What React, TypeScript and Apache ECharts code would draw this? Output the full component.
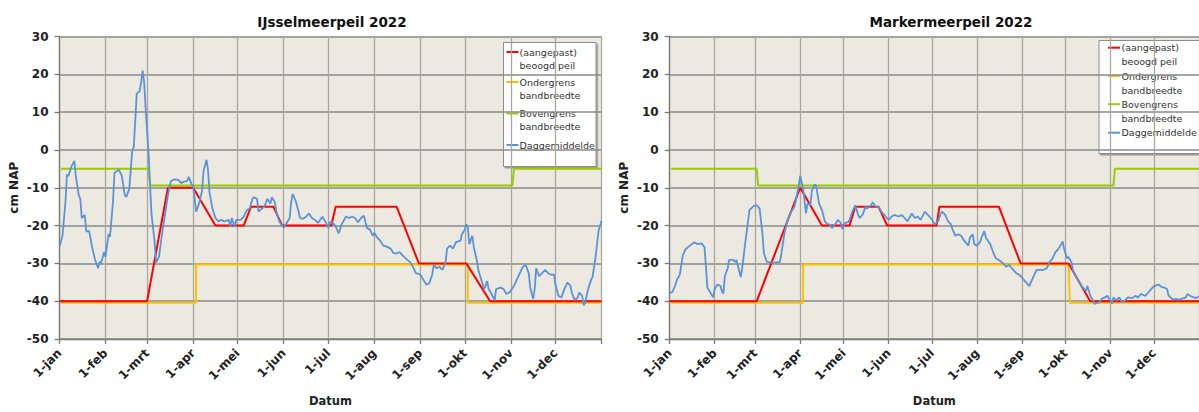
import React, { useEffect, useRef } from 'react';
import * as echarts from 'echarts';

// ---------- axis definitions ----------
const MONTH_LABELS = ['1-jan', '1-feb', '1-mrt', '1-apr', '1-mei', '1-jun', '1-jul', '1-aug', '1-sep', '1-okt', '1-nov', '1-dec'];
const MONTH_START_DAYS = [0, 31, 59, 90, 120, 151, 181, 212, 243, 273, 304, 334];
const YEAR_END_DAY = 365;
const Y_MIN = -50;
const Y_MAX = 30;
const Y_STEP = 10;

const TITLES = ['IJsselmeerpeil 2022', 'Markermeerpeil 2022'];
const Y_NAME = 'cm NAP';
const X_NAME = 'Datum';
const LEGEND_LABELS = ['(aangepast)\nbeoogd peil', 'Ondergrens\nbandbreedte', 'Bovengrens\nbandbreedte', 'Daggemiddelde'];
const SERIES_NAMES = ['(aangepast) beoogd peil', 'Ondergrens bandbreedte', 'Bovengrens bandbreedte', 'Daggemiddelde'];

// ---------- IJsselmeer data: [day of year, cm NAP] ----------
const ijsselBeoogd = [[0, -40], [59, -40], [73, -10], [90, -10], [105, -20], [124, -20], [129, -15], [144, -15], [150, -20], [183, -20], [186, -15], [227, -15], [242, -30], [274, -30], [290, -40], [365, -40]];
const ijsselOnder = [[1, -40.4], [92, -40.4], [92, -30.3], [275, -30.3], [275, -40.4], [365, -40.4]];
const ijsselBoven = [[1, -5], [60, -5], [61, -9.4], [305, -9.4], [306, -5], [365, -5]];
const ijsselDag = [
  [0, -25.6], [2, -22.7], [4, -13.8], [5, -6.5], [6, -6.9], [8, -4.4], [10, -2.9], [11, -6.9], [13, -12], [14, -12.9],
  [15, -18], [17, -17.2], [18, -21.5], [20, -21.5], [22, -25.8], [24, -29.1], [26, -31.3], [27, -29.6], [28, -30], [30, -27],
  [31, -28.3], [33, -22.3], [34, -23], [36, -13.8], [37, -6.1], [40, -5.2], [42, -6.9], [44, -12], [45, -12.4], [47, -10.3],
  [49, -0.1], [50, 0.8], [51, 7.6], [52, 14.9], [54, 15.5], [55, 18], [56, 21], [57, 17.9], [58, 11], [60, -0.9],
  [61, -9.5], [62, -17.2], [64, -24], [65, -29.8], [67, -28.3], [69, -22.3], [71, -17.2], [73, -12], [75, -8.2], [77, -7.8],
  [80, -7.9], [82, -8.8], [83, -8.5], [86, -8.2], [87, -7.1], [89, -9.1], [90, -9.5], [91, -12.9], [92, -16.3], [94, -14.2],
  [96, -10.8], [97, -5.6], [99, -2.6], [100, -5.2], [101, -11.2], [103, -15.5], [105, -18], [107, -18.9], [109, -18.5], [111, -18.9],
  [114, -18.5], [115, -20.2], [116, -18], [118, -20.4], [119, -18.5], [122, -18.5], [124, -17.7], [126, -16], [128, -15.5], [130, -12.9],
  [131, -12.5], [133, -12.9], [134, -16.3], [136, -15.6], [138, -15], [140, -12.9], [142, -14.2], [143, -12.5], [145, -13.8], [146, -16.3],
  [148, -18.9], [151, -20.6], [153, -19.3], [155, -18], [156, -13.8], [157, -11.6], [159, -13.4], [161, -16.3], [162, -18], [164, -18.2],
  [166, -17.7], [168, -16.8], [170, -18], [172, -18.5], [174, -19.3], [177, -17.7], [179, -18.9], [181, -20.6], [182, -19.1], [184, -19.3],
  [186, -20.2], [188, -22.1], [190, -19.7], [193, -17.6], [195, -18], [197, -17.6], [199, -18], [201, -19.1], [203, -18], [205, -17.4],
  [207, -20.6], [209, -21], [211, -22.7], [212, -21.9], [214, -23.2], [216, -24], [218, -25.3], [220, -25.5], [223, -26.1], [225, -27.3],
  [227, -27.4], [229, -27], [231, -27.9], [234, -29], [236, -29.6], [238, -30.9], [240, -32.6], [243, -33], [245, -34.3], [247, -35.6],
  [249, -35.3], [251, -33], [252, -30.4], [254, -31.3], [256, -30.9], [258, -31.7], [260, -29.6], [261, -26.1], [263, -25.3], [265, -26.1],
  [267, -24.4], [270, -24], [271, -22.3], [273, -21], [274, -19.6], [275, -20.6], [276, -24.9], [278, -22.7], [279, -25.7], [281, -29.1],
  [282, -31.7], [284, -34.3], [286, -36.8], [288, -34.7], [289, -36.8], [291, -38.1], [293, -39.8], [294, -36.8], [297, -36.4], [299, -36.8],
  [301, -38.1], [303, -37.7], [306, -36], [308, -34.3], [310, -32.6], [312, -30.9], [314, -30.4], [316, -32.6], [317, -36.4], [319, -39.4],
  [320, -36.8], [321, -31.3], [323, -33.4], [325, -32.6], [327, -31.7], [329, -32.6], [331, -33], [333, -33], [334, -35.6], [336, -38.6],
  [338, -39], [340, -36.8], [342, -35.1], [344, -35.8], [345, -37.7], [347, -39.8], [349, -39], [350, -37.7], [352, -38.6], [353, -41.1],
  [354, -40.3], [356, -36.8], [358, -34.3], [359, -33.6], [361, -28.3], [363, -21.4], [365, -18.7],
];

// ---------- Markermeer data: [day of year, cm NAP] ----------
const markerBeoogd = [[0, -40], [60, -40], [90, -10], [105, -20], [124, -20], [128, -15], [144, -15], [150, -20], [184, -20], [186, -15], [227, -15], [242, -30], [275, -30], [290, -40], [365, -40]];
const markerOnder = [[1, -40.4], [92, -40.4], [92, -30.3], [275, -30.3], [276, -40.4], [365, -40.4]];
const markerBoven = [[1, -5], [60, -5], [61, -9.4], [306, -9.4], [307, -5], [365, -5]];
const markerDag = [
  [0, -37.9], [2, -37.5], [4, -35.6], [5, -34.3], [7, -33], [8, -30.4], [9, -27.9], [11, -26.2], [14, -25.3], [17, -24.4],
  [19, -24.9], [22, -24.7], [24, -25.7], [25, -30.9], [26, -36.4], [28, -37.7], [30, -39], [31, -36.8], [33, -35.6], [35, -36],
  [36, -37.3], [37, -38], [38, -33.4], [40, -31.3], [41, -29.1], [44, -29.1], [45, -29.6], [46, -29.1], [49, -33.6], [50, -31.3],
  [52, -24.9], [54, -18.9], [55, -15.9], [58, -14.8], [60, -14.6], [62, -15.5], [64, -22.3], [65, -27.4], [67, -29.6], [70, -29.8],
  [73, -29.8], [76, -29.6], [77, -27.4], [79, -22.3], [81, -18.9], [83, -16.8], [86, -15], [87, -13.3], [89, -9.5], [90, -6.8],
  [92, -10.3], [94, -16.8], [95, -14.2], [97, -14.6], [98, -10.8], [100, -9.1], [101, -9.5], [103, -14.2], [105, -15.9], [107, -18.9],
  [109, -19.7], [110, -19.7], [112, -20.6], [114, -19.7], [116, -18.5], [118, -19.3], [119, -20.9], [121, -19.3], [123, -19.1], [124, -18.5],
  [126, -16.3], [128, -14.6], [130, -17.2], [131, -18], [133, -17.2], [135, -15], [136, -15.5], [139, -14.6], [140, -13.8], [142, -15],
  [144, -15], [146, -16.3], [149, -17.6], [151, -18.5], [153, -17.6], [155, -17.2], [158, -17.6], [160, -17.2], [162, -18], [164, -18.9],
  [167, -16.8], [169, -18], [171, -17.6], [173, -18.5], [176, -16.3], [178, -17.2], [180, -18], [181, -18.5], [183, -19.7], [185, -18.9],
  [187, -16.8], [188, -16.3], [190, -17.2], [192, -18.9], [194, -19.7], [195, -21], [197, -22.7], [199, -22.3], [201, -22.7], [203, -24],
  [206, -25.3], [207, -23.2], [209, -22.3], [210, -24.9], [212, -25.3], [214, -24.4], [215, -23.2], [217, -21.5], [218, -23.2], [221, -24.9],
  [223, -27], [225, -28.7], [227, -29.1], [230, -30], [232, -30.9], [234, -30.4], [236, -31.3], [239, -32.6], [241, -33], [243, -33.8],
  [245, -34.7], [248, -36], [249, -35.1], [251, -33.4], [253, -31.7], [256, -31.7], [258, -31.7], [260, -31.3], [262, -29.6], [264, -28.7],
  [266, -27], [268, -26.2], [270, -24.9], [271, -24.2], [272, -26.2], [274, -28.7], [275, -28.3], [277, -29.6], [278, -31.7], [280, -33.4],
  [282, -34.7], [284, -36], [287, -37.3], [288, -36], [290, -38.5], [292, -39.8], [293, -40.7], [296, -40.3], [298, -39.4], [300, -39],
  [302, -38.6], [305, -40.7], [306, -39], [308, -39.8], [310, -39], [312, -40.3], [314, -39.8], [316, -39], [319, -39.2], [321, -38.6],
  [323, -39], [325, -38.1], [328, -38.6], [330, -37.7], [332, -36.8], [334, -36], [337, -35.6], [339, -36.2], [341, -36.4], [343, -36.8],
  [344, -38.5], [347, -39.6], [349, -39.4], [351, -39.6], [353, -39.4], [356, -39], [357, -38.1], [360, -38.8], [363, -39.2], [365, -38.6],
];

const COLORS = ['#FF0000', '#FFC000', '#99CC00', '#5B93DA'];
const LINE_WIDTHS = [2, 2, 2, 1.8];

const PANELS = [
  { left: 59.5, width: 542, titleX: 332, legend: { x: 503.5, y: 42.5, w: 92.5, h: 124, lineX: 506.5, textX: 519.5, rows: [52, 82, 113.5, 145], lh: 13 } },
  { left: 669.7, width: 541, titleX: 951, legend: { x: 1099, y: 40.5, w: 112, h: 113, lineX: 1108, textX: 1121.5, rows: [47.7, 76, 104.2, 132.7], lh: 14 } },
];
const GRID_TOP = 36.5;
const GRID_HEIGHT = 311.5;

const CATEGORIES = Array.from({ length: YEAR_END_DAY + 1 }, (_, i) => {
  const m = MONTH_START_DAYS.indexOf(i);
  return m >= 0 ? MONTH_LABELS[m] : 'd' + i;
});

const isMonthStart = (idx: number) => MONTH_START_DAYS.indexOf(idx) >= 0;
const isGridDay = (idx: number) => isMonthStart(idx) || idx === YEAR_END_DAY;

function buildOption() {
  const datasets = [
    [ijsselBeoogd, ijsselOnder, ijsselBoven, ijsselDag],
    [markerBeoogd, markerOnder, markerBoven, markerDag],
  ];
  const grid = PANELS.map((p) => ({
    left: p.left, top: GRID_TOP, width: p.width, height: GRID_HEIGHT,
    show: true, backgroundColor: '#ECE9E0', borderWidth: 0, containLabel: false,
  }));
  const xAxis = PANELS.map((p, i) => ({
    type: 'category', gridIndex: i, data: CATEGORIES, boundaryGap: false,
    name: X_NAME, nameLocation: 'middle', nameGap: 56,
    nameTextStyle: { fontFamily: 'DejaVu Sans', fontWeight: 'bold', fontSize: 11.5, color: '#222' },
    axisLine: { onZero: false, lineStyle: { color: '#7a7a7a', width: 1.3 } },
    axisTick: { show: true, interval: (idx: number) => isGridDay(idx), length: 5, lineStyle: { color: '#7a7a7a', width: 1.3 } },
    axisLabel: {
      interval: (idx: number) => isMonthStart(idx), rotate: 45, margin: 12,
      fontFamily: 'DejaVu Sans', fontWeight: 'bold', fontSize: 12, color: '#222',
      formatter: (v: string) => v,
    },
    splitLine: { show: true, interval: (idx: number) => isGridDay(idx), lineStyle: { color: '#ABA79E', width: 1.3 } },
  }));
  const yAxis = PANELS.map((p, i) => ({
    type: 'value', gridIndex: i, min: Y_MIN, max: Y_MAX, interval: Y_STEP,
    name: Y_NAME, nameLocation: 'middle', nameGap: 40, nameRotate: 90,
    nameTextStyle: { fontFamily: 'DejaVu Sans', fontWeight: 'bold', fontSize: 12, color: '#222' },
    axisLine: { show: true, lineStyle: { color: '#7a7a7a', width: 1.3 } },
    axisTick: { show: true, length: 5, lineStyle: { color: '#7a7a7a', width: 1.3 } },
    axisLabel: { margin: 11, fontFamily: 'DejaVu Sans', fontWeight: 'bold', fontSize: 12, color: '#222' },
    splitLine: { show: true, lineStyle: { color: '#8A8A8A', width: 1.5 } },
  }));
  const drawOrder = [1, 2, 0, 3];
  const series: any[] = [];
  datasets.forEach((ds, gi) => {
    drawOrder.forEach((si, k) => {
      series.push({
        type: 'line', name: SERIES_NAMES[si], xAxisIndex: gi, yAxisIndex: gi,
        data: ds[si], showSymbol: false, symbol: 'none', smooth: false, clip: true,
        lineStyle: { color: COLORS[si], width: LINE_WIDTHS[si] },
        itemStyle: { color: COLORS[si] }, z: 2 + k,
      });
    });
  });

  const graphic: any[] = [];
  PANELS.forEach((p, i) => {
    graphic.push({
      type: 'text', x: p.titleX, y: 22,
      style: { text: TITLES[i], textAlign: 'center', textVerticalAlign: 'middle', fontFamily: 'DejaVu Sans', fontWeight: 'bold', fontSize: 13.5, fill: '#111' },
    });
    const L = p.legend;
    const children: any[] = [
      {
        type: 'rect', shape: { x: L.x, y: L.y, width: L.w, height: L.h },
        style: { fill: '#FFFFFF', stroke: '#8c8c8c', lineWidth: 1, shadowColor: 'rgba(0,0,0,0.35)', shadowOffsetX: 1.5, shadowOffsetY: 1.5, shadowBlur: 1 },
      },
    ];
    LEGEND_LABELS.forEach((lab, k) => {
      const y = L.rows[k];
      children.push({ type: 'line', shape: { x1: L.lineX, y1: y, x2: L.lineX + 12, y2: y }, style: { stroke: COLORS[k], lineWidth: 2 } });
      children.push({
        type: 'text', x: L.textX, y: y - L.lh / 2,
        style: { text: lab, fontFamily: 'DejaVu Sans', fontSize: 9.5, lineHeight: L.lh, fill: '#333', textVerticalAlign: 'top' },
      });
    });
    graphic.push({ type: 'group', z: 100, children });
  });

  return { animation: false, backgroundColor: '#FFFFFF', grid, xAxis, yAxis, series, graphic };
}

export default function App() {
  const ref = useRef<HTMLDivElement>(null);
  useEffect(() => {
    if (!ref.current) return;
    const chart = echarts.init(ref.current, undefined, { renderer: 'svg' });
    chart.setOption(buildOption() as any);
    return () => chart.dispose();
  }, []);
  return <div ref={ref} style={{ position: 'absolute', left: 0, top: 0, width: 1199, height: 412 }} />;
}
